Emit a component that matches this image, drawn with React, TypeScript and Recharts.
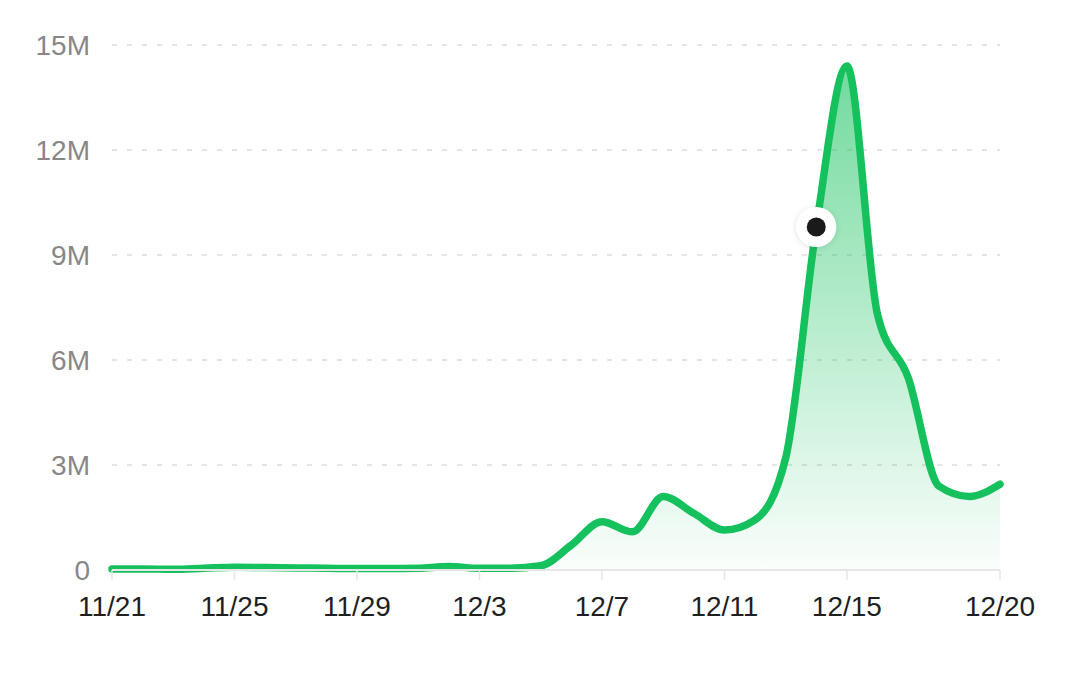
import {
  AreaChart,
  Area,
  XAxis,
  YAxis,
  CartesianGrid,
  ReferenceDot,
} from "recharts";

// daily values, in millions
const dates = [
  "11/21", "11/22", "11/23", "11/24", "11/25", "11/26", "11/27", "11/28", "11/29", "11/30",
  "12/1", "12/2", "12/3", "12/4", "12/5", "12/6", "12/7", "12/8", "12/9", "12/10",
  "12/11", "12/12", "12/13", "12/14", "12/15", "12/16", "12/17", "12/18", "12/19", "12/20",
];
const values = [
  0.03, 0.03, 0.02, 0.05, 0.08, 0.07, 0.06, 0.05, 0.04, 0.04,
  0.05, 0.1, 0.05, 0.05, 0.12, 0.71, 1.38, 1.09, 2.1, 1.62,
  1.14, 1.43, 3.2, 9.8, 14.4, 7.3, 5.5, 2.4, 2.1, 2.45,
];
const xTicks = ["11/21", "11/25", "11/29", "12/3", "12/7", "12/11", "12/15", "12/20"];
const yTicks = [0, 3, 6, 9, 12, 15];
const highlightDate = "12/14";

const data = dates.map((d, i) => ({ date: d, value: values[i] }));
const highlightValue = values[dates.indexOf(highlightDate)];

const GREEN = "#14c15c";
const FONT = "'Liberation Sans', Arial, Helvetica, sans-serif";

function HoverDot(props: any) {
  const { cx, cy } = props;
  if (cx == null || cy == null) return null;
  return (
    <g>
      <circle cx={cx} cy={cy} r={20} fill="#fff" filter="url(#dotShadow)" />
      <circle cx={cx} cy={cy} r={9.5} fill="#1a1a1a" />
    </g>
  );
}

export default function App() {
  return (
    <div style={{ position: "absolute", left: 0, top: 0, background: "#fff" }}>
      <AreaChart
        width={1080}
        height={678}
        data={data}
        margin={{ top: 45, right: 80, left: 0, bottom: 0 }}
      >
        <defs>
          <linearGradient id="greenFill" x1="0" y1="0" x2="0" y2="1">
            <stop offset="0%" stopColor={GREEN} stopOpacity={0.6} />
            <stop offset="100%" stopColor={GREEN} stopOpacity={0.02} />
          </linearGradient>
          <filter id="dotShadow" x="-50%" y="-50%" width="200%" height="200%">
            <feDropShadow dx="0" dy="1" stdDeviation="3" floodColor="#000" floodOpacity="0.12" />
          </filter>
        </defs>
        <CartesianGrid
          vertical={false}
          stroke="#dcdcdc"
          strokeDasharray="5 10"
          strokeWidth={1.5}
        />
        <XAxis
          dataKey="date"
          ticks={xTicks}
          interval={0}
          height={108}
          tickSize={10}
          tickMargin={16}
          axisLine={{ stroke: "#e6e6e6", strokeWidth: 2 }}
          tickLine={{ stroke: "#e6e6e6", strokeWidth: 1.5 }}
          tick={{ fill: "#1f1f1f", fontSize: 28, fontFamily: FONT }}
        />
        <YAxis
          domain={[0, 15]}
          ticks={yTicks}
          width={112}
          axisLine={false}
          tickLine={false}
          tickSize={6}
          tickMargin={16}
          tickFormatter={(v: number) => (v === 0 ? "0" : `${v}M`)}
          tick={{ fill: "#878787", fontSize: 28, fontFamily: FONT }}
        />
        <Area
          type="monotone"
          dataKey="value"
          stroke={GREEN}
          strokeWidth={7.5}
          strokeLinecap="round"
          strokeLinejoin="round"
          fill="url(#greenFill)"
          fillOpacity={1}
          dot={false}
          activeDot={false}
          isAnimationActive={false}
        />
        <ReferenceDot
          x={highlightDate}
          y={highlightValue}
          shape={HoverDot}
        />
      </AreaChart>
    </div>
  );
}
